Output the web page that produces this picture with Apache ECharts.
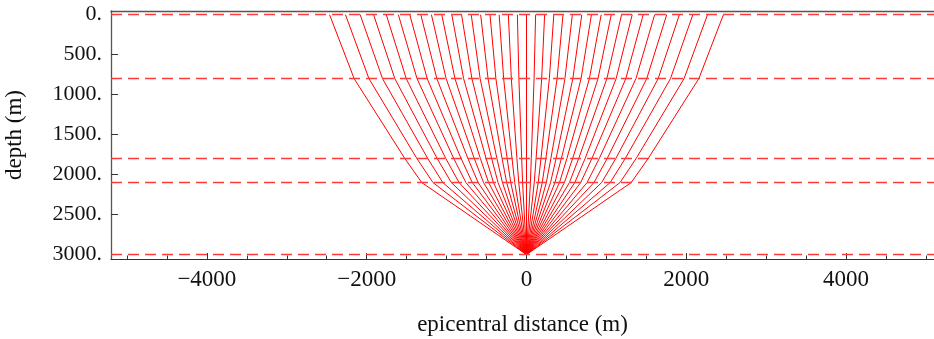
<!DOCTYPE html>
<html>
<head>
<meta charset="utf-8">
<script src="https://cdn.jsdelivr.net/npm/echarts@6/dist/echarts.min.js"></script>
<style>
  html, body { margin: 0; background: #fff; }
  #chart { width: 934px; height: 339px; }
</style>
</head>
<body>
<div id="chart"></div>
<script>
// layer interfaces (m), dashed lines
const layerDepths = [0, 800, 1800, 2100, 3000];
// source position
const sourceX = 0;
const sourceDepth = 3000;
// ray x positions (m) where each ray crosses an interface, left to right
const rayX2100 = [-1310, -1170, -1047, -940, -844, -758, -678, -605, -537, -474, -413, -356, -301, -248, -197, -147, -97, -49, 0, 49, 97, 147, 197, 248, 301, 356, 413, 474, 537, 605, 678, 758, 844, 940, 1047, 1170, 1310];
const rayX1800 = [-1522, -1371, -1235, -1117, -1009, -910, -818, -733, -653, -577, -505, -436, -370, -305, -242, -181, -120, -60, 0, 60, 120, 181, 242, 305, 370, 436, 505, 577, 653, 733, 818, 910, 1009, 1117, 1235, 1371, 1522];
const rayX800 = [-2157, -1972, -1802, -1648, -1505, -1370, -1243, -1122, -1006, -895, -787, -683, -580, -481, -383, -286, -190, -95, 0, 95, 190, 286, 383, 481, 580, 683, 787, 895, 1006, 1122, 1243, 1370, 1505, 1648, 1802, 1972, 2157];
const rayX0 = [-2465, -2266, -2082, -1914, -1755, -1604, -1461, -1323, -1190, -1061, -935, -813, -692, -574, -457, -342, -227, -114, 0, 114, 227, 342, 457, 574, 692, 813, 935, 1061, 1190, 1323, 1461, 1604, 1755, 1914, 2082, 2266, 2465];

// ticks
const xTicks = [-4000, -2000, 0, 2000, 4000];
const xMinorTicks = [-5000, -4500, -3500, -3000, -2500, -1500, -1000, -500, 500, 1000, 1500, 2500, 3000, 3500, 4500, 5000];
const yTicks = [0, 500, 1000, 1500, 2000, 2500, 3000];

let chart = echarts.init(document.getElementById('chart'));

const serif = 'Liberation Serif';

// one line series per ray
const raySeries = rayX0.map((x, i) => ({
  type: 'line',
  xAxisIndex: 0,
  yAxisIndex: 0,
  symbol: 'none',
  silent: true,
  lineStyle: { color: '#ff0000', width: 1 },
  data: [
    [sourceX, sourceDepth],
    [rayX2100[i], 2100],
    [rayX1800[i], 1800],
    [rayX800[i], 800],
    [x, 0],
  ],
}));

const option = {
  animation: false,
  grid: {
    left: 111,
    right: 0,
    top: 11,
    bottom: 80,
    outerBoundsMode: 'none',
  },
  xAxis: [
    {
      type: 'value',
      min: -5200,
      max: 5100,
      position: 'bottom',
      name: 'epicentral distance (m)',
      nameLocation: 'middle',
      nameGap: 54,
      nameTextStyle: { fontFamily: serif, fontSize: 23, color: '#111' },
      axisLine: { show: true, onZero: false, lineStyle: { color: '#333', width: 1.2 } },
      axisTick: { show: true, inside: true, length: 6, customValues: xTicks, lineStyle: { color: '#333' } },
      axisLabel: {
        customValues: xTicks,
        margin: 9,
        fontFamily: serif,
        fontSize: 23,
        color: '#111',
        formatter: (v) => (v < 0 ? '\u2212' + Math.abs(v) : String(v)),
      },
      splitLine: { show: false },
    },
    {
      // minor ticks
      type: 'value',
      min: -5200,
      max: 5100,
      position: 'bottom',
      axisLine: { show: false, onZero: false },
      axisTick: { show: true, inside: true, length: 3.5, customValues: xMinorTicks, lineStyle: { color: '#333' } },
      axisLabel: { show: false },
      splitLine: { show: false },
    },
    {
      // top frame
      type: 'value',
      min: -5200,
      max: 5100,
      position: 'top',
      axisLine: { show: true, onZero: false, lineStyle: { color: '#555', width: 1.3 } },
      axisTick: { show: false },
      axisLabel: { show: false },
      splitLine: { show: false },
    },
  ],
  yAxis: {
    type: 'value',
    inverse: true,
    min: -45,
    max: 3055,
    name: 'depth (m)',
    nameLocation: 'middle',
    nameGap: 85,
    nameTextStyle: { fontFamily: serif, fontSize: 23, color: '#111' },
    axisLine: { show: true, onZero: false, lineStyle: { color: '#555', width: 1.3 } },
    axisTick: { show: true, inside: true, length: 7, customValues: yTicks, lineStyle: { color: '#333' } },
    axisLabel: {
      customValues: yTicks,
      margin: 9,
      fontFamily: serif,
      fontSize: 22,
      color: '#111',
      formatter: (v) => v + '.',
    },
    splitLine: { show: false },
  },
  series: [
    ...raySeries,
    {
      name: 'layers',
      type: 'line',
      data: [],
      silent: true,
      markLine: {
        silent: true,
        symbol: 'none',
        label: { show: false },
        lineStyle: { color: '#ff3a3a', width: 1.3, type: [11, 6] },
        data: layerDepths.map((d) => ({ yAxis: d })),
      },
    },
  ],
};

chart.setOption(option);
</script>
</body>
</html>
